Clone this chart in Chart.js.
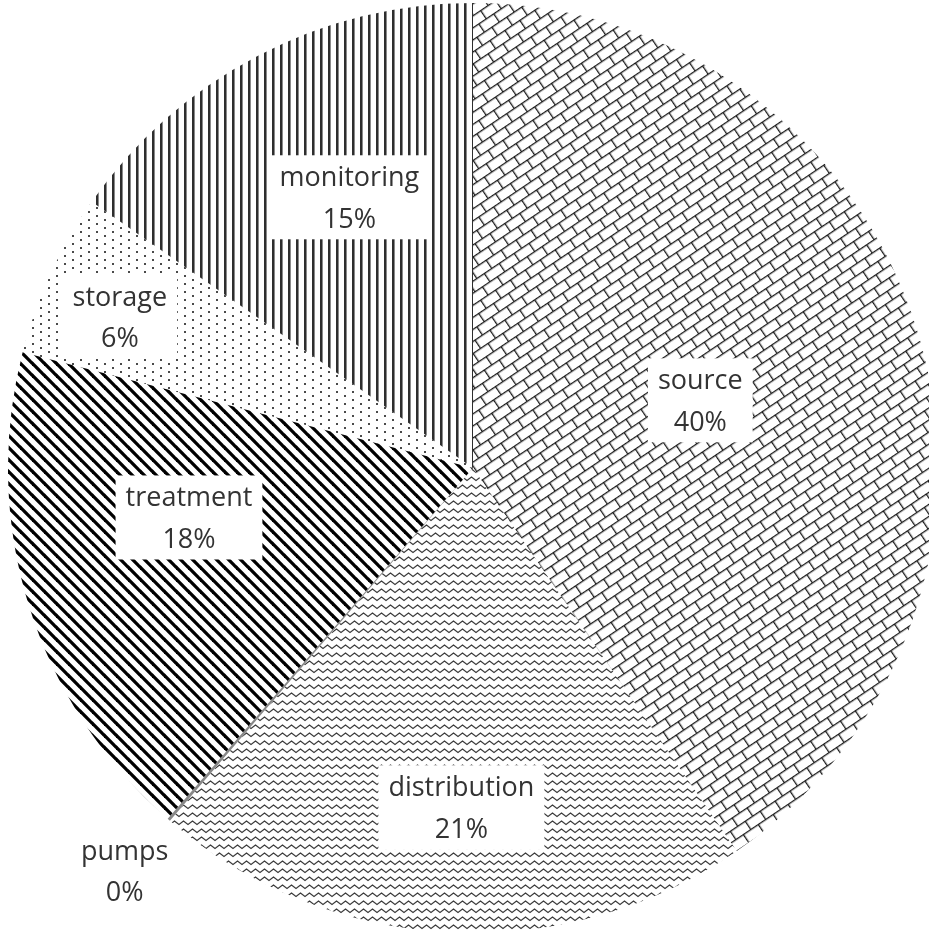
<!DOCTYPE html>
<html>
<head>
<meta charset="utf-8">
<script src="https://cdn.jsdelivr.net/npm/chart.js@4.4.0/dist/chart.umd.min.js"></script>
<style>
  html, body { margin: 0; padding: 0; background: #fff; overflow: hidden; }
  #wrap { position: absolute; left: 8px; top: 3px; width: 930px; height: 930px; }
</style>
</head>
<body>
<div id="wrap"><canvas id="pieChart" width="930" height="930"></canvas></div>
<script>
// slices, clockwise from 12 o'clock
var categories = ['source', 'distribution', 'pumps', 'treatment', 'storage', 'monitoring'];
var shares = [40.4, 20.9, 0.1, 17.6, 5.7, 15.3];

// label placement: fraction of the radius, and degrees turned off the slice middle
var labelRadius = [0.51, 0.73, 1.145, 0.62, 0.826, 0.64];
var labelTurn = [0.7, -1.1, 0, 7.4, -1.5, 3];

var ctx = document.getElementById('pieChart').getContext('2d');

function makeTile(w, h, draw) {
  var c = document.createElement('canvas');
  c.width = w;
  c.height = h;
  draw(c.getContext('2d'));
  return c;
}

// diagonal brick (source)
var brick = ctx.createPattern(makeTile(18, 20, function (g) {
  g.fillStyle = '#1a1a1a';
  g.fillRect(0, 0, 18, 1.3);
  g.fillRect(0, 10, 18, 1.3);
  g.fillRect(0, 0, 1.3, 10);
  g.fillRect(9, 10, 1.3, 10);
}), 'repeat');
brick.setTransform(new DOMMatrix().rotate(-34));

// zig zag (distribution)
var zigzag = ctx.createPattern(makeTile(9, 8, function (g) {
  g.strokeStyle = '#3a3a3a';
  g.lineWidth = 1.25;
  g.beginPath();
  g.moveTo(-4.5, 2);
  g.lineTo(0, 5.5);
  g.lineTo(4.5, 2);
  g.lineTo(9, 5.5);
  g.lineTo(13.5, 2);
  g.stroke();
}), 'repeat');

// wide downward diagonal (treatment)
var diag = ctx.createPattern(makeTile(12, 12, function (g) {
  g.strokeStyle = '#000';
  g.lineWidth = 3.3;
  [-12, 0, 12].forEach(function (o) {
    g.beginPath();
    g.moveTo(o - 1, -1);
    g.lineTo(o + 13, 13);
    g.stroke();
  });
}), 'repeat');

// sparse dots (storage)
var dots = ctx.createPattern(makeTile(16, 8, function (g) {
  g.fillStyle = '#4a4a4a';
  g.fillRect(0, 0, 2, 2);
  g.fillRect(8, 4, 2, 2);
}), 'repeat');

// vertical lines (monitoring)
var vlines = ctx.createPattern(makeTile(8, 4, function (g) {
  g.fillStyle = '#2e2e2e';
  g.fillRect(0, 0, 2, 4);
  g.fillStyle = '#8a8a8a';
  g.fillRect(2, 0, 1, 4);
}), 'repeat');

var labelPlugin = {
  id: 'sliceLabels',
  afterDatasetsDraw: function (chart) {
    var c = chart.ctx;
    var arcs = chart.getDatasetMeta(0).data;
    var total = shares.reduce(function (a, b) { return a + b; }, 0);
    c.save();
    c.font = '27px "Open Sans"';
    c.textAlign = 'center';
    c.textBaseline = 'alphabetic';
    arcs.forEach(function (arc, i) {
      var p = arc.getProps(['x', 'y', 'startAngle', 'endAngle', 'outerRadius'], true);
      var mid = (p.startAngle + p.endAngle) / 2 + labelTurn[i] * Math.PI / 180;
      var r = p.outerRadius * labelRadius[i];
      var cx = p.x + Math.cos(mid) * r;
      var cy = p.y + Math.sin(mid) * r;
      var pct = Math.round(shares[i] / total * 100) + '%';
      var w = Math.max(c.measureText(categories[i]).width, c.measureText(pct).width) + 20;
      if (labelRadius[i] < 1) {
        c.fillStyle = '#fff';
        c.fillRect(cx - w / 2, cy - 42, w, 84);
      }
      c.fillStyle = '#333';
      c.fillText(categories[i], cx, cy - 11);
      c.fillText(pct, cx, cy + 30.5);
    });
    c.restore();
  }
};

var myChart = new Chart(ctx, {
  type: 'pie',
  data: {
    labels: categories,
    datasets: [{
      data: shares,
      backgroundColor: [brick, zigzag, '#888', diag, dots, vlines],
      borderWidth: 0,
      hoverOffset: 0,
      offset: 0
    }]
  },
  options: {
    responsive: false,
    animation: false,
    events: [],
    layout: { padding: 0 },
    plugins: {
      legend: { display: false },
      tooltip: { enabled: false }
    }
  },
  plugins: [labelPlugin]
});
</script>
</body>
</html>
